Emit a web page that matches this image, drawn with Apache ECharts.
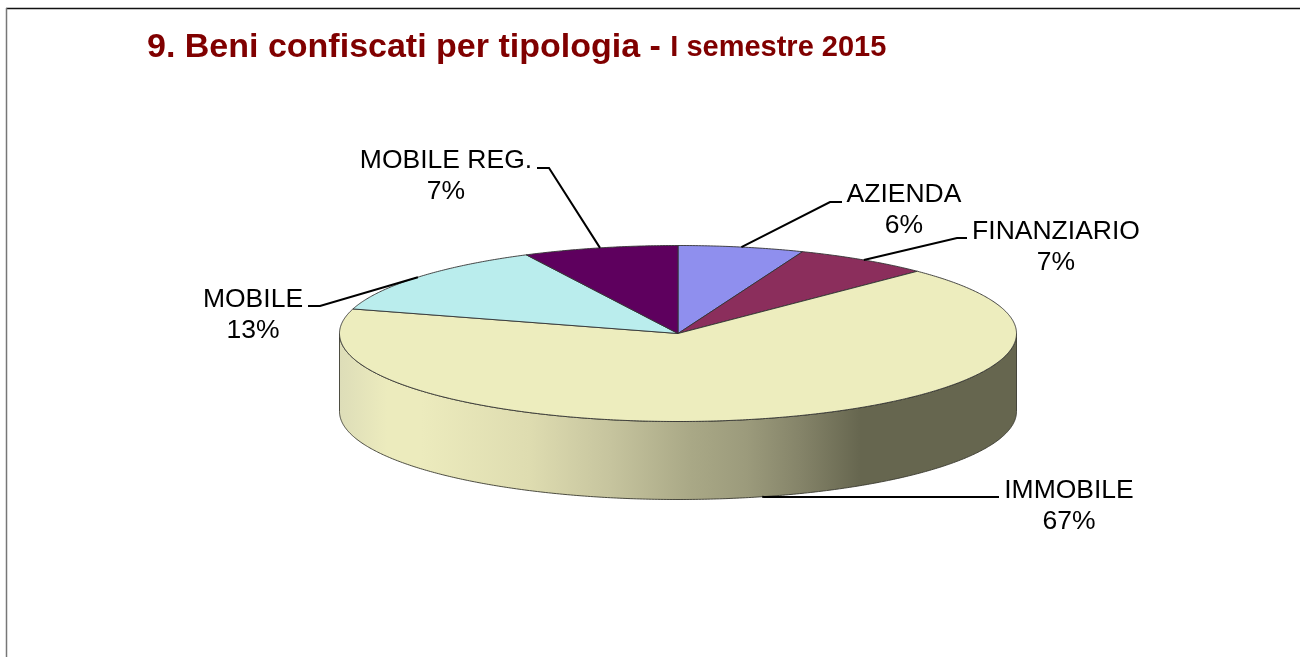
<!DOCTYPE html>
<html>
<head>
<meta charset="utf-8">
<title>Beni confiscati per tipologia</title>
<style>
  html, body { margin: 0; padding: 0; background: #fff; }
  #chart { width: 1300px; height: 657px; }
</style>
<script src="https://cdn.jsdelivr.net/npm/echarts@6/dist/echarts.min.js"></script>
</head>
<body>
<div id="chart"></div>
<script>
// dati (stimati dagli angoli delle fette, le etichette sono arrotondate)
var categories = ['AZIENDA', 'FINANZIARIO', 'IMMOBILE', 'MOBILE', 'MOBILE REG.'];
var percentages = [6.0, 6.5, 67.0, 13.1, 7.4];

var sliceColors = ['#8F8FEE', '#8B2E5C', '#EDEDBE', '#BAEDED', '#5E005E'];

// ellisse della torta in prospettiva
var cx = 678, cy = 333.5, rx = 338.5, ry = 88, depth = 78;

// gomito della linea guida + fine + centro testo, per categoria
var labelLayout = [
  { elbow: [830, 202], end: [842, 202], text: [904, 210] },
  { elbow: [957, 238], end: [967, 238], text: [1056, 247] },
  { elbow: [764, 497], end: [999, 497], text: [1069, 506] },
  { elbow: [320, 306], end: [308, 306], text: [253, 315] },
  { elbow: [549, 168], end: [537, 168], text: [446, 176] }
];

var total = percentages.reduce(function (a, b) { return a + b; }, 0);

function rim(deg, dy) {
  var t = deg * Math.PI / 180;
  return [cx + rx * Math.sin(t), cy - ry * Math.cos(t) + (dy || 0)];
}

// fianco: scuro verso destra, come nell'originale
var wallFill = new echarts.graphic.LinearGradient(cx - rx, 0, cx + rx, 0, [
  { offset: 0, color: '#DDDDB8' },
  { offset: 0.07, color: '#ECEBBD' },
  { offset: 0.12, color: '#ECEBBD' },
  { offset: 0.28, color: '#DEDCB0' },
  { offset: 0.40, color: '#C6C49E' },
  { offset: 0.52, color: '#A9A886' },
  { offset: 0.60, color: '#9C9B7C' },
  { offset: 0.68, color: '#858469' },
  { offset: 0.77, color: '#66664F' },
  { offset: 1, color: '#66664F' }
], true);

function renderSlice(params, api) {
  var i = params.dataIndex;
  var before = 0;
  for (var k = 0; k < i; k++) before += percentages[k];
  var start = before / total * 360;
  var end = (before + api.value(0)) / total * 360;
  var mid = (start + end) / 2;
  var children = [];

  // parte frontale del fianco (90-270 gradi)
  var wStart = Math.max(start, 90), wEnd = Math.min(end, 270);
  if (wEnd > wStart) {
    var wall = [];
    for (var a = wStart; a <= wEnd; a += 0.5) wall.push(rim(a));
    for (var b = wEnd; b >= wStart; b -= 0.5) wall.push(rim(b, depth));
    children.push({
      type: 'polygon',
      shape: { points: wall },
      style: { fill: wallFill, stroke: '#3A3A30', lineWidth: 0.9 }
    });
  }

  var top = [[cx, cy]];
  for (var d = start; d < end; d += 0.5) top.push(rim(d));
  top.push(rim(end));
  children.push({
    type: 'polygon',
    shape: { points: top },
    style: { fill: sliceColors[i], stroke: '#333', lineWidth: 0.9, lineJoin: 'round' }
  });

  // linea guida dal centro dell'arco
  var l = labelLayout[i];
  var front = mid > 90 && mid < 270;
  children.push({
    type: 'polyline',
    z2: 5,
    shape: { points: [rim(mid, front ? depth : 0), l.elbow, l.end] },
    style: { fill: null, stroke: '#000', lineWidth: 2 }
  });
  children.push({
    type: 'text',
    z2: 6,
    style: {
      x: l.text[0], y: l.text[1],
      text: categories[i] + '\n' + Math.round(api.value(0)) + '%',
      align: 'center', verticalAlign: 'middle',
      fill: '#000',
      font: '26.5px "Liberation Sans"',
      lineHeight: 31
    }
  });
  return { type: 'group', children: children };
}

var myChart = echarts.init(document.getElementById('chart'), null, { renderer: 'canvas' });
var option = {
  animation: false,
  backgroundColor: '#fff',
  title: {
    left: 142,
    top: 26,
    text: '{a|9. Beni confiscati per tipologia - }{b|I semestre 2015}',
    textStyle: {
      rich: {
        a: { fontFamily: 'Liberation Sans', fontWeight: 'bold', fontSize: 34, color: '#800000' },
        b: { fontFamily: 'Liberation Sans', fontWeight: 'bold', fontSize: 29, color: '#800000' }
      }
    }
  },
  graphic: [
    { type: 'line', shape: { x1: 6, y1: 8.5, x2: 1300, y2: 8.5 }, style: { stroke: '#111', lineWidth: 1.5 } },
    { type: 'line', shape: { x1: 6.5, y1: 8, x2: 6.5, y2: 657 }, style: { stroke: '#777', lineWidth: 1.5 } }
  ],
  series: [{
    type: 'custom',
    coordinateSystem: 'none',
    renderItem: renderSlice,
    data: percentages.map(function (v, i) { return { name: categories[i], value: [v] }; })
  }]
};
myChart.setOption(option);
</script>
</body>
</html>
